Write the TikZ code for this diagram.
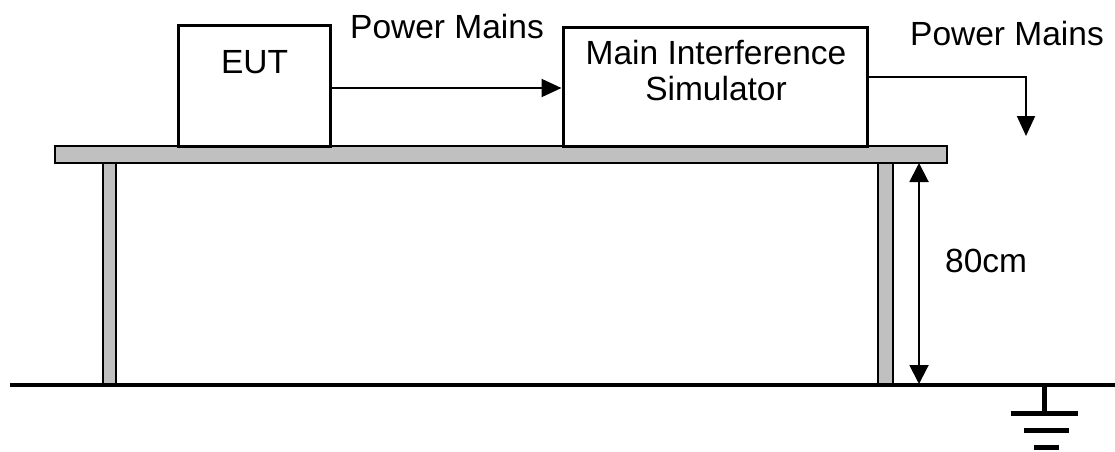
\documentclass[tikz,border=0pt]{standalone}
\usepackage{fontspec}
\setmainfont{Liberation Sans}
\usetikzlibrary{arrows.meta}

\begin{document}
\begin{tikzpicture}[x=1pt,y=-1pt,
        box/.style={draw, line width=3pt, inner sep=0pt},
        txt/.style={inner sep=0pt, font=\fontsize{33.5}{29}\selectfont},
        part/.style={draw, line width=2pt, fill={rgb,255:red,192;green,192;blue,192}},
        feed/.style={line width=2pt, -{Triangle[length=20pt,width=18pt]}}]
        \useasboundingbox (0,0) rectangle (1115,451);
        % table, legs and floor
        \draw[part] (55,146) rectangle (947,163);
        \draw[part] (103,163) rectangle (116,385);
        \draw[part] (878,163) rectangle (893,385);
        \draw (10,385) coordinate(fl) (1115,385) coordinate(fr);
        \draw[line width=3.5pt] (fl) -- (fr);
        % boxes on the table
        \draw (254,85.5) node[box, minimum width=152pt, minimum height=121pt](eut) {};
        \draw (715,86.5) node[box, minimum width=304pt, minimum height=119pt](mis) {};
        \draw (254.5,73) node[txt, anchor=base](eutl) {EUT};
        \draw (716,64) node[txt, anchor=base](misl1) {Main Interference};
        \draw (716,100) node[txt, anchor=base](misl2) {Simulator};
        % mains lines
        \draw (350,38) node[txt, anchor=base west](pm1) {Power Mains};
        \draw (910,45) node[txt, anchor=base west](pm2) {Power Mains};
        \draw[feed] (eut.east |- 0,88) -- (mis.west |- 0,88);
        \draw (1026,136) coordinate(out);
        \draw[feed] (mis.east |- 0,77) -| (out);
        % height of the table
        \draw (919,163) coordinate(h1) (919,384) coordinate(h2);
        \draw[line width=2pt, {Triangle[length=19pt,width=19pt]}-{Triangle[length=19pt,width=19pt]}] (h1) -- (h2);
        \draw (945,272) node[txt, anchor=base west](hl) {80cm};
        % earth
        \draw (1044,385) coordinate(g0) (1044,413) coordinate(g1);
        \draw[line width=5pt] (g0) -- (g1);
        \draw[line width=5pt] (1011,413) -- (1078,413);
        \draw[line width=5pt] (1024,430) -- (1069,430);
        \draw[line width=5pt] (1034,447) -- (1059,447);
    \end{tikzpicture}
\end{document}
